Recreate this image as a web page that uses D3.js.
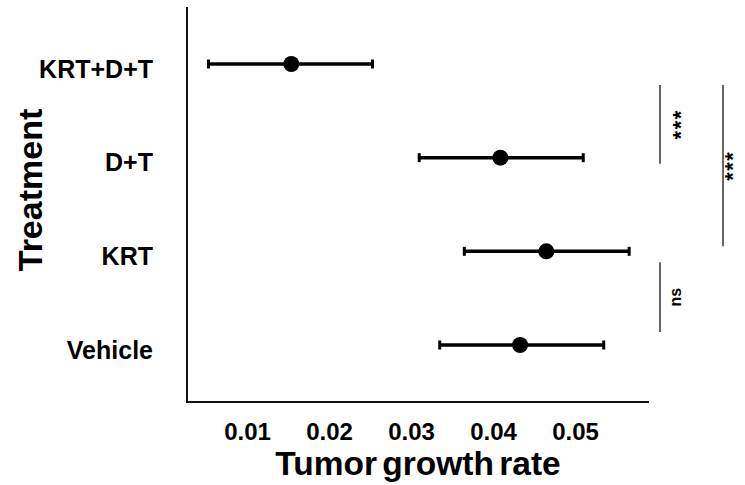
<!DOCTYPE html>
<html lang="en">
<head>
    <meta charset="UTF-8">
    <script src="https://d3js.org/d3.v7.min.js"></script>
    <title>Tumor growth rate by treatment</title>
    <style>
        body { margin: 0; background: #fff; }
        text { font-family: "Liberation Sans", Arial, sans-serif; font-weight: bold; fill: #000; }
    </style>
</head>
<body>
<script>
    // data
    const categories = ["KRT+D+T", "D+T", "KRT", "Vehicle"];
    const means = [0.0154, 0.0409, 0.0465, 0.0433];
    const lower = [0.0053, 0.0310, 0.0365, 0.0335];
    const upper = [0.0253, 0.0510, 0.0566, 0.0535];
    const xTicks = [0.01, 0.02, 0.03, 0.04, 0.05];

    // significance comparisons
    const cmpFrom = ["KRT+D+T", "KRT+D+T", "KRT"];
    const cmpTo = ["D+T", "KRT", "Vehicle"];
    const cmpLabels = ["***", "***", "ns"];

    const width = 745, height = 485;
    const plotLeft = 187, plotRight = 649, plotTop = 7, plotBottom = 402;

    const svg = d3.select("body").append("svg")
        .attr("width", width)
        .attr("height", height);

    const x = d3.scaleLinear()
        .domain([0.00268, 0.05902])
        .range([plotLeft, plotRight]);

    const y = d3.scalePoint()
        .domain(categories)
        .range([64, 345]);

    // x axis (labels only, no ticks)
    const xAxis = svg.append("g")
        .attr("transform", `translate(0,${plotBottom})`)
        .call(d3.axisBottom(x).tickValues(xTicks).tickFormat(d3.format(".2f")).tickSize(0).tickPadding(21));
    xAxis.select(".domain").remove();
    xAxis.selectAll("text").attr("font-size", 24).attr("font-family", null);

    // y axis labels
    const yAxis = svg.append("g")
        .attr("transform", `translate(${plotLeft},0)`)
        .call(d3.axisLeft(y).tickSize(0).tickPadding(34));
    yAxis.select(".domain").remove();
    yAxis.selectAll("text").attr("font-size", 25).attr("font-family", null).attr("dy", 13);

    // frame lines
    svg.append("path")
        .attr("d", `M${plotLeft},${plotTop}V${plotBottom}H${plotRight}`)
        .attr("fill", "none")
        .attr("stroke", "#111")
        .attr("stroke-width", 2);

    // error bars
    const bars = svg.append("g");
    bars.selectAll("line.bar")
        .data(categories)
        .join("line")
        .attr("class", "bar")
        .attr("x1", (d, i) => x(lower[i]))
        .attr("x2", (d, i) => x(upper[i]))
        .attr("y1", d => y(d))
        .attr("y2", d => y(d))
        .attr("stroke", "#000")
        .attr("stroke-width", 3.5);

    const caps = [];
    categories.forEach((c, i) => { caps.push([c, lower[i]]); caps.push([c, upper[i]]); });
    bars.selectAll("line.cap")
        .data(caps)
        .join("line")
        .attr("class", "cap")
        .attr("x1", d => x(d[1]))
        .attr("x2", d => x(d[1]))
        .attr("y1", d => y(d[0]) - 4.5)
        .attr("y2", d => y(d[0]) + 4.5)
        .attr("stroke", "#000")
        .attr("stroke-width", 3);

    bars.selectAll("circle")
        .data(categories)
        .join("circle")
        .attr("cx", (d, i) => x(means[i]))
        .attr("cy", d => y(d))
        .attr("r", 8)
        .attr("fill", "#000");

    // comparison brackets
    const bx = [660, 723, 660];
    const insets = [[21, 6], [21, -5], [11, -13]];
    const sig = svg.append("g");
    sig.selectAll("line")
        .data(cmpLabels)
        .join("line")
        .attr("x1", (d, i) => bx[i])
        .attr("x2", (d, i) => bx[i])
        .attr("y1", (d, i) => y(cmpFrom[i]) + insets[i][0])
        .attr("y2", (d, i) => y(cmpTo[i]) + insets[i][1])
        .attr("stroke", "#333")
        .attr("stroke-width", 1.5);

    sig.selectAll("text")
        .data(cmpLabels)
        .join("text")
        .attr("transform", (d, i) => {
            const cy = (y(cmpFrom[i]) + insets[i][0] + y(cmpTo[i]) + insets[i][1]) / 2;
            const tx = d === "ns" ? bx[i] + 21 : Math.min(bx[i] + 28, 740);
            return `translate(${tx},${cy}) rotate(-90)`;
        })
        .attr("text-anchor", "middle")
        .attr("font-size", d => d === "ns" ? 16 : 22)
        .attr("letter-spacing", d => d === "ns" ? 0 : 1.5)
        .text(d => d);

    // axis titles
    svg.append("text")
        .attr("x", (plotLeft + plotRight) / 2)
        .attr("y", 475)
        .attr("text-anchor", "middle")
        .attr("font-size", 33.5)
        .attr("word-spacing", -4)
        .text("Tumor growth rate");

    svg.append("text")
        .attr("transform", "translate(42,190) rotate(-90)")
        .attr("text-anchor", "middle")
        .attr("font-size", 34)
        .text("Treatment");
</script>
</body>
</html>
